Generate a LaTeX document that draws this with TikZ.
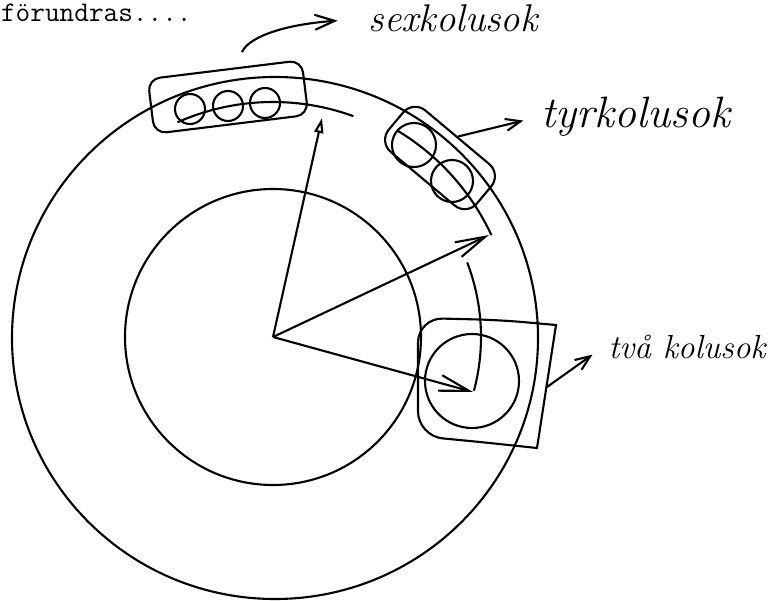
\documentclass[tikz,border=0pt]{standalone}
\usepackage{fontspec}
\usetikzlibrary{arrows.meta,positioning,shapes,calc}

\begin{document}
\begin{tikzpicture}[x=0.02cm,y=-0.02cm,line width=1.2pt,
  tray/.style={rectangle,draw,rounded corners=7pt,inner sep=0pt},
  hand/.style={font=\fontsize{#1}{24}\selectfont\itshape,anchor=base west,inner sep=2pt},
  arr/.style={-{Straight Barb[length=6mm,width=3.2mm]}},
  lab/.style={-{Straight Barb[length=3mm,width=2.4mm]}}]
\useasboundingbox (0,0) rectangle (771,601);
\coordinate (C) at (273,337);
% hjulet
\draw (275,338) ellipse [x radius=263, y radius=261];
\draw (C) circle [radius=148];
\node[font=\fontsize{16.2}{18}\selectfont\ttfamily,anchor=base west,inner sep=0pt] (title) at (0,22) {förundras....};
% korgarna
\node[tray,rotate=7,minimum width=3.1cm,minimum height=1.1cm] (sexbox) at (228,97) {};
\foreach \x/\y in {190/109,228/106,265/103}
  \draw (\x,\y) circle [radius=15];
\node[tray,rotate=-40,minimum width=2.3cm,minimum height=1.08cm,rounded corners=9pt] (tyrbox) at (440,158) {};
\draw (414,145) circle [radius=22] (452,181) circle [radius=21];
\draw (500,320) -- (556,325) -- (537,448) -- (480,442) [rounded corners=14pt] -- (418,436) -- (418,318) -- cycle;
\draw (472,381) circle [radius=47];
% banor
\draw (C) ++(-114:235) arc [start angle=-114, end angle=-70, radius=235];
\draw (C) ++(-59:241) arc [start angle=-59, end angle=-25, radius=241];
\draw (C) ++(-21:208) arc [start angle=-21, end angle=15, radius=208];
\coordinate (t1) at (322,118);
\coordinate (t2) at (489,235);
\coordinate (t3) at (473,392);
\draw[-{Triangle[open,length=3mm,width=1.8mm]}] (C) -- (t1);
\draw[arr] (C) -- (t2);
\draw[arr] (C) -- (t3);
% etiketter
\node[hand=22] (sexlabel) at (364,32) {sexkolusok};
\node[hand=25] (tyrlabel) at (537,128) {tyrkolusok};
\node[hand=19] (tvalabel) at (604,358) {två kolusok};
\coordinate (sexstart) at (242,52);
\coordinate (tvaedge) at (547,387);
\draw[-{Straight Barb[length=4mm,width=3mm]},shorten >=15pt] (sexstart) .. controls (250,35) and (290,24) .. (sexlabel.west);
\draw[lab,shorten >=8pt] (tyrbox.north) -- (tyrlabel.west);
\draw[lab,shorten >=8pt] (tvaedge) -- (tvalabel.west);
\end{tikzpicture}
\end{document}
